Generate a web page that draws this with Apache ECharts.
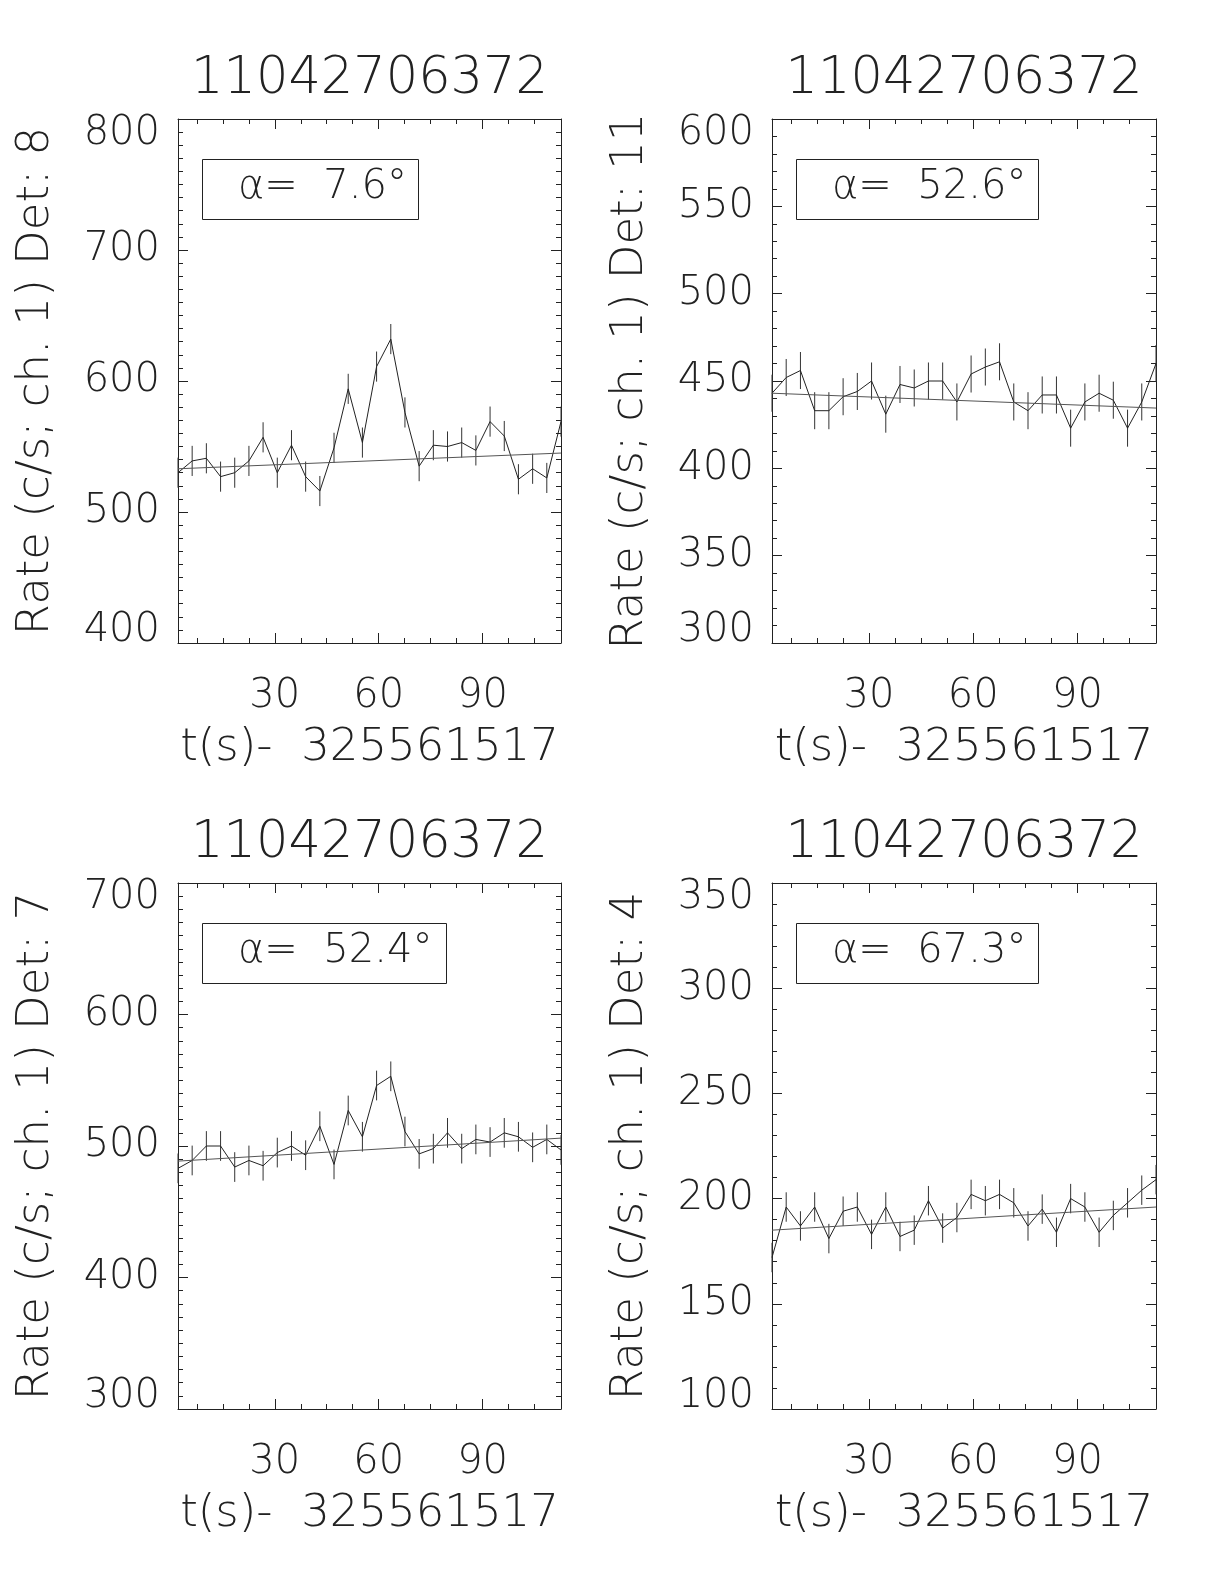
<!DOCTYPE html>
<html>
<head>
<meta charset="utf-8">
<script src="https://cdn.jsdelivr.net/npm/echarts@6/dist/echarts.min.js"></script>
<style>
html, body { margin: 0; background: #fff; }
#echarts { width: 1224px; height: 1584px; }
</style>
</head>
<body>
<div id="echarts"></div>
<script>
// bin centres, t(s) - 325561517
var times = [2.05, 6.14, 10.24, 14.34, 18.43, 22.53, 26.62, 30.72, 34.82, 38.91,
  43.01, 47.10, 51.20, 55.30, 59.39, 63.49, 67.58, 71.68, 75.78, 79.87,
  83.97, 88.06, 92.16, 96.26, 100.35, 104.45, 108.54, 112.64];

// count rates per detector
var rateDet8 = [530, 539, 541, 527, 530, 539, 557, 530, 551, 527,
  516, 549, 594, 553, 611, 632, 576, 535, 551, 550,
  553, 547, 569, 558, 525, 533, 526, 569];
var rateDet11 = [443, 452, 456, 433, 433, 441, 444, 450, 431, 448,
  446, 450, 450, 438, 454, 458, 461, 438, 433, 442,
  442, 423, 438, 443, 439, 423, 438, 460];
var rateDet7 = [483, 489, 500, 500, 484, 489, 485, 495, 500, 493,
  515, 486, 527, 507, 546, 553, 511, 494, 498, 510,
  498, 505, 503, 510, 507, 499, 505, 497];
var rateDet4 = [172, 196, 187, 196, 181, 194, 196, 183, 196, 182,
  185, 199, 186, 191, 202, 199, 202, 198, 187, 195,
  184, 200, 196, 184, 192, 198, 204, 209];

// linear fit, value at first and last bin
var fitDet8 = [533, 545];
var fitDet11 = [443, 434.5];
var fitDet7 = [488.5, 506];
var fitDet4 = [185, 196];

// half length of the error bars
var errDet = [11.5, 10.6, 11.3, 7.0];

var detNames = ['8', '11', '7', '4'];
var alphaText = ['7.6', '52.6', '52.4', '67.3'];
var yMin = [400, 300, 300, 100];
var yMax = [800, 600, 700, 350];
var yStep = [100, 50, 100, 50];
var yMinorSplit = [10, 5, 10, 5];
var xMajor = [30, 60, 90];
var xMinor = [7.5, 15, 22.5, 37.5, 45, 52.5, 67.5, 75, 82.5, 97.5, 105];

var rates = [rateDet8, rateDet11, rateDet7, rateDet4];
var fits = [fitDet8, fitDet11, fitDet7, fitDet4];

// layout of the 2x2 panels
var panels = [
  { left: 178, top: 119, width: 383, height: 524, boxW: 216 },
  { left: 772, top: 119, width: 384, height: 524, boxW: 242 },
  { left: 178, top: 883, width: 383, height: 526, boxW: 244 },
  { left: 772, top: 883, width: 384, height: 526, boxW: 242 }
];

var FONT = "'DejaVu Sans'";
var INK = '#222';

var myChart = echarts.init(document.getElementById('echarts'));

var grid = [], xAxis = [], yAxis = [], series = [], title = [], graphic = [];

function tickAxis(p, position, values, len, main) {
  return {
    type: 'value', gridIndex: p, position: position,
    min: times[0], max: times[times.length - 1],
    axisLine: { show: main, onZero: false, lineStyle: { color: INK, width: 1 } },
    axisTick: { show: true, inside: true, length: len, customValues: values, lineStyle: { color: INK } },
    axisLabel: { show: false },
    splitLine: { show: false }
  };
}

function errBar(params, api) {
  var x = api.value(0), y = api.value(1), e = api.value(2);
  var lo = api.coord([x, y - e]);
  var hi = api.coord([x, y + e]);
  return {
    type: 'line',
    shape: { x1: lo[0], y1: lo[1], x2: hi[0], y2: hi[1] },
    style: { stroke: '#333', lineWidth: 1 }
  };
}

panels.forEach(function (g, p) {
  grid.push({ left: g.left, top: g.top, width: g.width, height: g.height });

  // bottom axis with labels and name
  var xb = tickAxis(p, 'bottom', xMajor, 10, true);
  xb.axisLabel = {
    show: true, customValues: xMajor, margin: 34,
    fontFamily: FONT, fontWeight: 200, fontSize: 40, color: INK
  };
  xb.name = 't(s)-  325561517';
  xb.nameLocation = 'middle';
  xb.nameGap = 83;
  xb.nameTextStyle = { fontFamily: FONT, fontWeight: 200, fontSize: 45, color: INK };
  xAxis.push(xb);
  xAxis.push(tickAxis(p, 'bottom', xMinor, 5, false));
  xAxis.push(tickAxis(p, 'top', xMajor, 10, true));
  xAxis.push(tickAxis(p, 'top', xMinor, 5, false));

  var lo = yMin[p], hi = yMax[p];
  yAxis.push({
    type: 'value', gridIndex: p, position: 'left',
    min: lo, max: hi, interval: yStep[p],
    name: 'Rate (c/s; ch. 1) Det: ' + detNames[p],
    nameLocation: 'middle', nameGap: 119,
    nameTextStyle: { fontFamily: FONT, fontWeight: 200, fontSize: 45, color: INK },
    axisLine: { show: true, onZero: false, lineStyle: { color: INK } },
    axisTick: { inside: true, length: 10, lineStyle: { color: INK } },
    minorTick: { show: true, splitNumber: yMinorSplit[p], length: 5, lineStyle: { color: INK } },
    splitLine: { show: false },
    axisLabel: {
      margin: 18, fontFamily: FONT, fontWeight: 200, fontSize: 40, color: INK,
      formatter: function (v) {
        if (v === hi) return '{hi|' + v + '}';
        if (v === lo) return '{lo|' + v + '}';
        return String(v);
      },
      rich: {
        hi: { fontFamily: FONT, fontWeight: 200, fontSize: 40, color: INK, padding: [30, 0, 0, 0] },
        lo: { fontFamily: FONT, fontWeight: 200, fontSize: 40, color: INK, padding: [0, 0, 24, 0] }
      }
    }
  });
  yAxis.push({
    type: 'value', gridIndex: p, position: 'right',
    min: lo, max: hi, interval: yStep[p],
    axisLine: { show: true, onZero: false, lineStyle: { color: INK } },
    axisTick: { inside: true, length: 10, lineStyle: { color: INK } },
    minorTick: { show: true, splitNumber: yMinorSplit[p], length: 5, lineStyle: { color: INK } },
    splitLine: { show: false },
    axisLabel: { show: false }
  });

  var r = rates[p];
  series.push({
    type: 'line', xAxisIndex: 4 * p, yAxisIndex: 2 * p,
    data: times.map(function (t, i) { return [t, r[i]]; }),
    symbol: 'none', lineStyle: { color: INK, width: 1 }, silent: true
  });
  series.push({
    type: 'custom', xAxisIndex: 4 * p, yAxisIndex: 2 * p,
    data: times.map(function (t, i) { return [t, r[i], errDet[p]]; }),
    renderItem: errBar, silent: true
  });
  series.push({
    type: 'line', xAxisIndex: 4 * p, yAxisIndex: 2 * p,
    data: [[times[0], fits[p][0]], [times[times.length - 1], fits[p][1]]],
    symbol: 'none', lineStyle: { color: '#555', width: 1 }, silent: true
  });

  title.push({
    text: '11042706372',
    left: g.left + g.width / 2, top: g.top - 65, textAlign: 'center', padding: 0,
    textStyle: { fontFamily: FONT, fontWeight: 200, fontSize: 51, color: INK }
  });

  // alpha box
  var bx = g.left + 22, by = g.top + 38;
  graphic.push({
    type: 'rect', left: bx, top: by,
    shape: { width: g.boxW, height: 60 },
    style: { fill: 'none', stroke: INK, lineWidth: 1 }
  });
  graphic.push({
    type: 'text', x: bx + 38, y: by + 31,
    style: {
      text: 'α=  ' + alphaText[p] + '°',
      fontFamily: FONT, fontWeight: 200, fontSize: 40, fill: INK,
      verticalAlign: 'middle'
    }
  });
});

option = {
  backgroundColor: '#fff',
  animation: false,
  title: title,
  grid: grid,
  xAxis: xAxis,
  yAxis: yAxis,
  series: series,
  graphic: graphic
};
myChart.setOption(option);
</script>
</body>
</html>
